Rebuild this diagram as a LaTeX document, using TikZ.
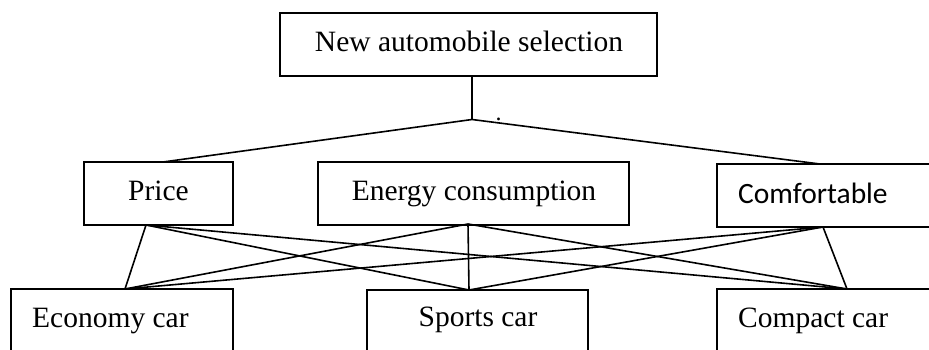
\documentclass[tikz,border=0pt]{standalone}
\usepackage{fontspec}
\setmainfont{Liberation Serif}
\newfontfamily\calfont{Carlito}
\begin{document}
\begin{tikzpicture}[x=1pt,y=-1pt,
  box/.style={draw=black, line width=2pt, rectangle, inner sep=0pt},
  lbl/.style={font=\fontsize{29.5}{33}\selectfont, inner sep=0pt},
  conn/.style={draw=black, line width=1.6pt}]
\useasboundingbox (0,0) rectangle (929,350);
\clip (0,0) rectangle (929,350);
\fill[white] (0,0) rectangle (929,350);
% boxes
\node[box, minimum width=377pt, minimum height=63pt] (top) at (468.5,44.5) {};
\node[box, minimum width=149pt, minimum height=63pt] (price) at (158.5,193.5) {};
\node[box, minimum width=311pt, minimum height=63pt] (energy) at (473.5,193.5) {};
\node[box, minimum width=240pt, minimum height=63pt] (comf) at (837,195.5) {};
\node[box, minimum width=222pt, minimum height=90pt] (econ) at (122,334) {};
\node[box, minimum width=221pt, minimum height=90pt] (sports) at (477.5,335) {};
\node[box, minimum width=240pt, minimum height=90pt] (compact) at (837,334) {};
% texts
\node[lbl, anchor=base] (toptext) at (469,52) {New automobile selection};
\node[lbl, anchor=base] (pricetext) at (158.5,200) {Price};
\node[lbl, anchor=base] (energytext) at (474,200) {Energy consumption};
\node[lbl, anchor=base west, font=\calfont\fontsize{29.5}{33}\selectfont] (comftext) at (738,204) {Comfortable};
\node[lbl, anchor=base west] (econtext) at (32,327) {Economy car};
\node[lbl, anchor=base] (sportstext) at (478,326) {Sports car};
\node[lbl, anchor=base west] (compacttext) at (738,327.5) {Compact car};
\node[lbl, anchor=base, font=\fontsize{24}{26}\selectfont] (dot) at (498.5,121) {.};
% connection points
\coordinate (tb) at (472,76);
\coordinate (J) at (472,119.5);
\coordinate (pt) at (163,162);
\coordinate (ct) at (820,164);
\coordinate (pb) at (146,225);
\coordinate (eb) at (468,224);
\coordinate (cb) at (823,227);
\coordinate (et) at (125,289);
\coordinate (st) at (469,290);
\coordinate (kt) at (847,289);
% connectors
\draw[conn] (tb) -- (J);
\draw[conn] (pt) -- (J) -- (ct);
\foreach \a in {pb,eb,cb}{
  \foreach \b in {et,st,kt}{
    \draw[conn] (\a) -- (\b);
  }
}
\end{tikzpicture}
\end{document}
